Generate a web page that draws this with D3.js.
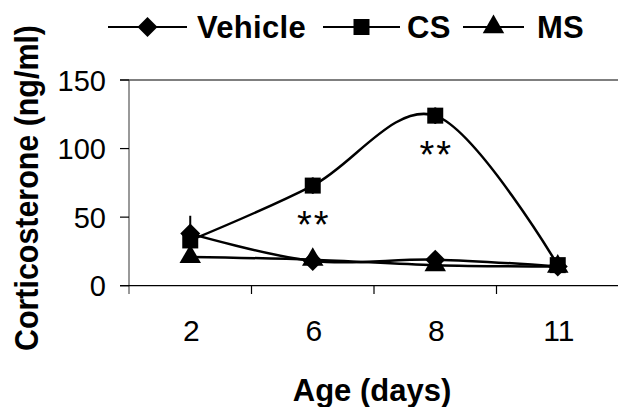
<!DOCTYPE html>
<html>
<head>
<meta charset="utf-8">
<script src="https://cdn.jsdelivr.net/npm/d3@7"></script>
<style>
  body { margin: 0; background: #fff; }
  text { font-family: "Liberation Sans", Arial, sans-serif; }
</style>
</head>
<body>
<svg id="drawspace" width="618" height="407"></svg>
<script>
const days = ["2", "6", "8", "11"];
const vehicle = [38, 18, 19, 14];
const vehicleErr = [13, 2, 2, 2];
const cs = [33, 73, 124, 15];
const csErr = [4, 6, 6, 2];
const ms = [21, 19, 15, 14];
const msErr = [2, 2, 2, 2];
const yTicks = [0, 50, 100, 150];
const starDays = ["6", "8"];

let drawspace = d3.select("#drawspace");

const x = d3.scaleBand().domain(days).range([129, 619]);
const y = d3.scaleLinear().domain([0, 150]).range([285.7, 80]);
const cx = (d) => x(d) + x.bandwidth() / 2;

// axes
drawspace.append("line")
  .attr("x1", 120).attr("x2", 619).attr("y1", y(150)).attr("y2", y(150))
  .attr("stroke", "#000").attr("stroke-width", 1.2);

drawspace.append("line")
  .attr("x1", 129).attr("x2", 129).attr("y1", y(150)).attr("y2", 294)
  .attr("stroke", "#555").attr("stroke-width", 1.2);

drawspace.append("line")
  .attr("x1", 120).attr("x2", 619).attr("y1", y(0)).attr("y2", y(0))
  .attr("stroke", "#000").attr("stroke-width", 1.2);

drawspace.selectAll(".ytick")
  .data(yTicks)
  .enter()
  .append("line")
  .attr("x1", 120).attr("x2", 129)
  .attr("y1", (d) => y(d)).attr("y2", (d) => y(d))
  .attr("stroke", "#000").attr("stroke-width", 1.2);

drawspace.selectAll(".ylab")
  .data(yTicks)
  .enter()
  .append("text")
  .attr("x", 106)
  .attr("y", (d) => y(d) + 10.5)
  .attr("text-anchor", "end")
  .attr("font-size", "29px")
  .text((d) => d);

drawspace.selectAll(".xtick")
  .data(days.slice(1))
  .enter()
  .append("line")
  .attr("x1", (d) => x(d)).attr("x2", (d) => x(d))
  .attr("y1", y(0)).attr("y2", 294)
  .attr("stroke", "#000").attr("stroke-width", 1.2);

drawspace.selectAll(".xlab")
  .data(days)
  .enter()
  .append("text")
  .attr("x", (d) => cx(d) + 1)
  .attr("y", 340.5)
  .attr("text-anchor", "middle")
  .attr("font-size", "30px")
  .text((d) => d);

drawspace.append("text")
  .attr("x", 372)
  .attr("y", 400.5)
  .attr("text-anchor", "middle")
  .attr("font-size", "31px")
  .attr("font-weight", "bold")
  .text("Age (days)");

drawspace.append("text")
  .attr("transform", "translate(38,188) rotate(-90)")
  .attr("text-anchor", "middle")
  .attr("font-size", "33px")
  .attr("font-weight", "bold")
  .attr("textLength", 326)
  .attr("lengthAdjust", "spacingAndGlyphs")
  .text("Corticosterone (ng/ml)");

// series; diamond is a square turned 45 degrees
const series = [
  { name: "Vehicle", values: vehicle, err: vehicleErr, shape: d3.symbolSquare, size: 200, rot: 45 },
  { name: "CS", values: cs, err: csErr, shape: d3.symbolSquare, size: 256, rot: 0 },
  { name: "MS", values: ms, err: msErr, shape: d3.symbolTriangle, size: 200, rot: 0 },
];

const line = d3.line()
  .x((d, i) => cx(days[i]))
  .y((d) => y(d))
  .curve(d3.curveCardinal.tension(0));

series.forEach((s) => {
  drawspace.append("path")
    .attr("d", line(s.values))
    .attr("fill", "none")
    .attr("stroke", "#000")
    .attr("stroke-width", 2.5);
});

series.forEach((s) => {
  drawspace.selectAll(".err-" + s.name)
    .data(s.values)
    .enter()
    .append("line")
    .attr("x1", (d, i) => cx(days[i])).attr("x2", (d, i) => cx(days[i]))
    .attr("y1", (d, i) => y(d - s.err[i])).attr("y2", (d, i) => y(d + s.err[i]))
    .attr("stroke", "#000").attr("stroke-width", 2);
});

series.forEach((s) => {
  drawspace.selectAll(".pt-" + s.name)
    .data(s.values)
    .enter()
    .append("path")
    .attr("d", d3.symbol().type(s.shape).size(s.size))
    .attr("transform", (d, i) => "translate(" + cx(days[i]) + "," + y(d) + ") rotate(" + s.rot + ")")
    .attr("fill", "#000");
});

// significance marks below CS points
drawspace.selectAll(".star")
  .data(starDays)
  .enter()
  .append("text")
  .attr("x", (d) => cx(d) + 1)
  .attr("y", (d) => y(cs[days.indexOf(d)]) + 30 + 22)
  .attr("text-anchor", "middle")
  .attr("font-size", "38px")
  .attr("letter-spacing", "2px")
  .text("**");

// legend
const legendPos = [
  { x1: 108, x2: 187, tx: 197 },
  { x1: 323, x2: 400, tx: 407 },
  { x1: 463, x2: 524, tx: 537 },
];

series.forEach((s, i) => {
  const p = legendPos[i];
  drawspace.append("line")
    .attr("x1", p.x1).attr("x2", p.x2).attr("y1", 27).attr("y2", 27)
    .attr("stroke", "#000").attr("stroke-width", 2.2);
  drawspace.append("path")
    .attr("d", d3.symbol().type(s.shape).size(s.size))
    .attr("transform", "translate(" + (p.x1 + p.x2) / 2 + ",27) rotate(" + s.rot + ")")
    .attr("fill", "#000");
  drawspace.append("text")
    .attr("x", p.tx)
    .attr("y", 37.5)
    .attr("font-size", "31px")
    .attr("font-weight", "bold")
    .attr("letter-spacing", "0.3px")
    .text(s.name);
});
</script>
</body>
</html>
